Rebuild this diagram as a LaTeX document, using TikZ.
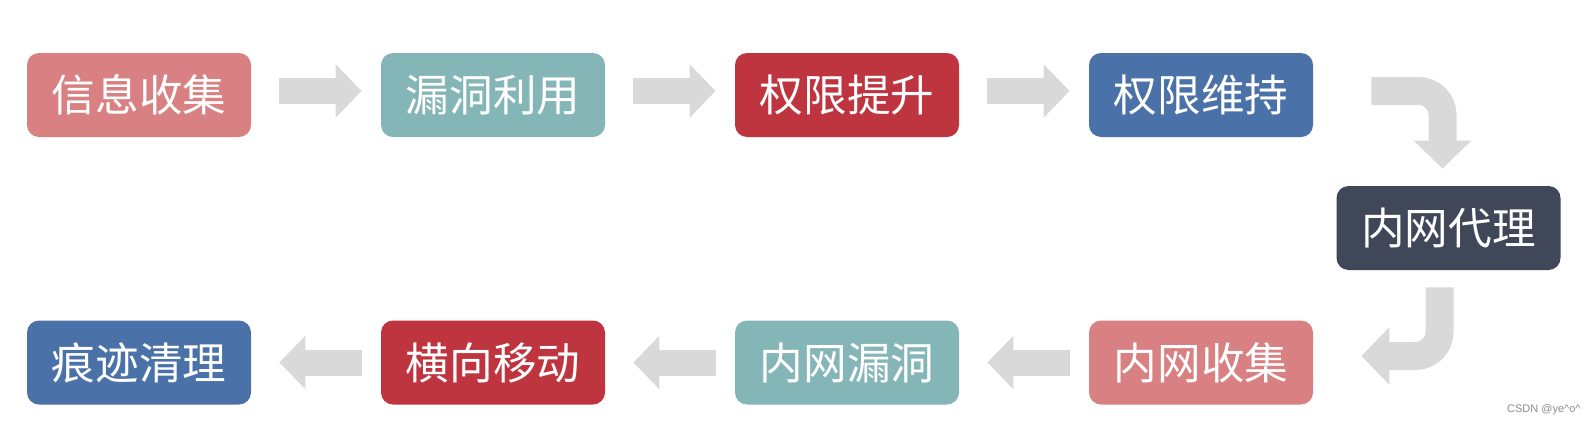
\documentclass[tikz,border=0pt]{standalone}
\usepackage{fontspec}
\newfontfamily\cjk{Noto Sans CJK SC}
\newfontfamily\wmfont{Liberation Sans}
\usetikzlibrary{arrows.meta}
\definecolor{pinkc}{HTML}{D88082}
\definecolor{tealc}{HTML}{84B6B8}
\definecolor{redc}{HTML}{BE343F}
\definecolor{bluec}{HTML}{4A71A8}
\definecolor{darkc}{HTML}{3F4759}
\definecolor{arrowc}{HTML}{D9D9D9}

\begin{document}
\begin{tikzpicture}[
    x=0.5pt, y=-0.5pt,
    stage/.style={rectangle, rounded corners=6pt, minimum width=112pt, minimum height=42pt, inner sep=0pt, align=center, text=white, font=\cjk\fontsize{21.8}{26}\selectfont},
    fwd/.style={line width=13pt, draw=arrowc, -{Triangle[width=26pt,length=13pt]}, shorten <=14pt, shorten >=9.5pt},
    back/.style={line width=13pt, draw=arrowc, -{Triangle[width=26pt,length=13pt]}, shorten <=9.5pt, shorten >=14pt},
    turn/.style={line width=14pt, draw=arrowc, rounded corners=12pt, -{Triangle[width=28pt,length=14pt]}},
    wmark/.style={text=black!45, font=\wmfont\fontsize{5.5}{6}\selectfont, inner sep=0pt}
]
    \useasboundingbox (0,0) rectangle (1593,445);
    \node[stage, fill=pinkc] (info)    at (139,95)  {信息收集};
    \node[stage, fill=tealc] (vuln)    at (493,95)  {漏洞利用};
    \node[stage, fill=redc]  (priv)    at (847,95)  {权限提升};
    \node[stage, fill=bluec] (persist) at (1201,95) {权限维持};
    \node[stage, fill=darkc] (proxy)   at (1448.5,228) {内网代理};
    \node[stage, fill=pinkc] (incollect) at (1201,362.5) {内网收集};
    \node[stage, fill=tealc] (invuln)    at (847,362.5)  {内网漏洞};
    \node[stage, fill=redc]  (lateral)   at (493,362.5)  {横向移动};
    \node[stage, fill=bluec] (clean)     at (139,362.5)  {痕迹清理};
    \draw[fwd] ([yshift=2pt]info.east) -- ([yshift=2pt]vuln.west);
    \draw[fwd] ([yshift=2pt]vuln.east) -- ([yshift=2pt]priv.west);
    \draw[fwd] ([yshift=2pt]priv.east) -- ([yshift=2pt]persist.west);
    \draw[turn] ([xshift=29pt,yshift=2pt]persist.east) -| ([xshift=-3pt,yshift=8.5pt]proxy.north);
    \draw[turn] ([xshift=-4.5pt,yshift=-8.5pt]proxy.south) |- ([xshift=24pt,yshift=3.25pt]incollect.east);
    \draw[back] (incollect.west) -- (invuln.east);
    \draw[back] (invuln.west) -- (lateral.east);
    \draw[back] (lateral.west) -- (clean.east);
    \node[wmark, anchor=east] (csdn) at (1581,410) {CSDN @ye\textasciicircum o\textasciicircum};
\end{tikzpicture}
\end{document}
